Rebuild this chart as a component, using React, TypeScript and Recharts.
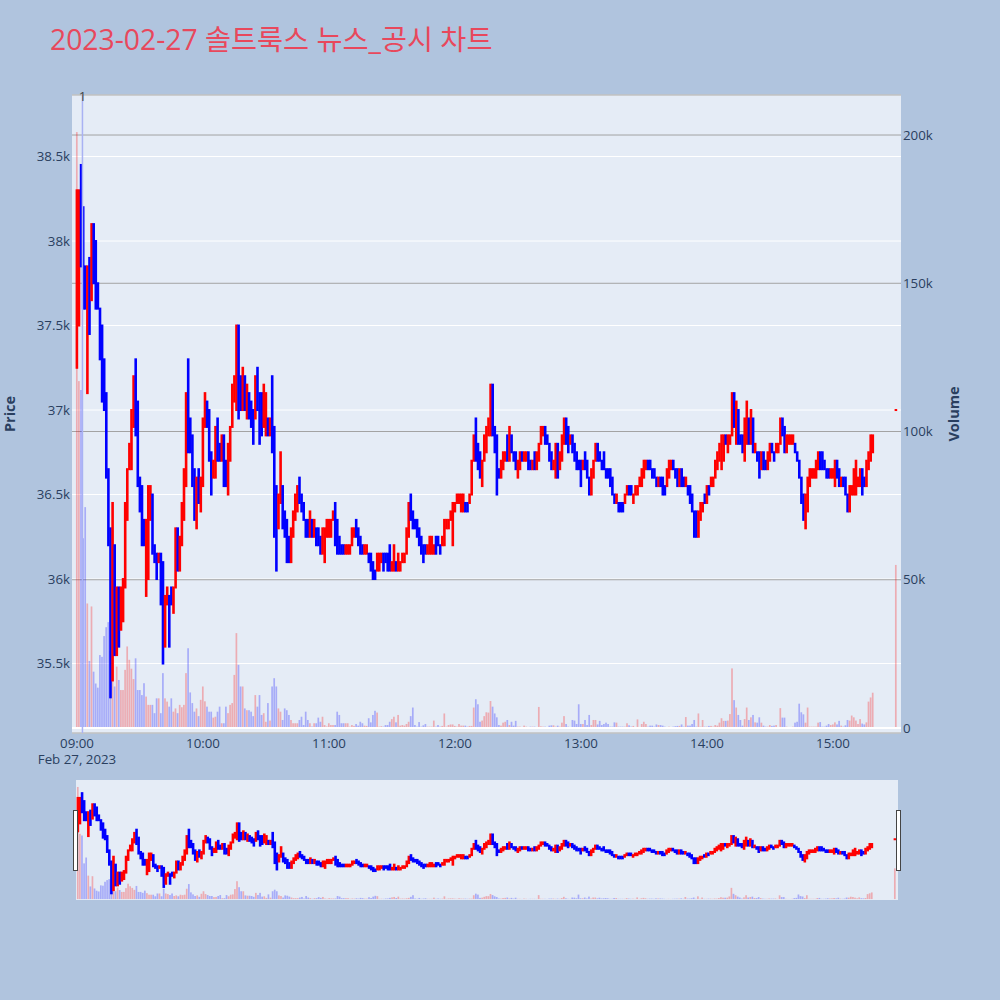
import React from 'react';
import { ComposedChart, Bar, XAxis, YAxis, CartesianGrid, ReferenceLine, Label } from 'recharts';

const TITLE = '2023-02-27 솔트룩스 뉴스_공시 차트';
const DATE_LABEL = 'Feb 27, 2023';
const timeTicks = [0, 60, 120, 180, 240, 300, 360];
const timeLabels = ['09:00', '10:00', '11:00', '12:00', '13:00', '14:00', '15:00'];
const priceTicks = [35500, 36000, 36500, 37000, 37500, 38000, 38500];
const volumeTicks = [0, 50000, 100000, 150000, 200000];
const newsMinutes = [2.6];
const newsLabels = ['1'];

// minute-by-minute candles from 09:00 (index = minutes after 09:00)
const opens = [
  37250, 37500, 38450, 38200, 37850, 37100, 37900, 37650, 38100, 38000,
  37750, 37600, 37500, 37300, 37100, 36650, 36300, 35400, 36200, 35550,
  35950, 35700, 35750, 35950, 36350, 36650, 36650, 36900, 37300, 37050,
  36600, 36550, 36350, 35900, 36000, 36350, 36500, 36200, 36150, 36100,
  36150, 36100, 35600, 35850, 35900, 35950, 35800, 35950, 36300, 36050,
  36200, 36350, 36550, 37300, 36950, 36850, 36650, 36300, 36650, 36400,
  36550, 36900, 37050, 37000,
  36750, 36600, 36600, 36950, 36800, 36700, 36850, 36700, 36500, 36700,
  36900, 37050, 37000, 37500, 37200, 37000, 37200, 36950, 37100, 37050,
  37000, 36950, 37250, 37100, 37100, 36900, 36850, 36950, 36850, 37200,
  36900, 36550, 36300, 36450, 36550, 36400, 36350, 36250, 36100, 36250,
  36350, 36400, 36600, 36500, 36450, 36350, 36350, 36250, 36350, 36250,
  36300, 36300, 36250, 36150, 36100, 36250, 36250,
  36250, 36350, 36450, 36350, 36250, 36200, 36200, 36150, 36150, 36150,
  36200, 36250, 36350, 36300, 36250, 36200, 36150, 36150, 36150, 36150,
  36100, 36050, 36050, 36050, 36100, 36150, 36150, 36150, 36200, 36050,
  36050, 36100, 36050, 36050, 36100, 36100, 36150, 36250, 36500, 36400,
  36350, 36350, 36300, 36250, 36200, 36200, 36150, 36150, 36150, 36150,
  36250, 36250, 36200, 36200, 36200, 36300, 36300, 36350, 36200, 36400,
  36450, 36450,
  36400, 36400, 36450, 36450, 36450, 36500, 36700, 36950, 36800, 36750,
  36550, 36700, 36750, 36850, 36850, 37150, 36900, 36850, 36650, 36600,
  36650, 36700, 36850, 36700, 36850, 36750, 36750, 36600, 36650, 36750,
  36700, 36700, 36750, 36700, 36650, 36750, 36650, 36700, 36800, 36850,
  36900, 36850, 36800, 36750, 36650, 36600, 36800, 36650, 36700, 36800,
  36950, 36900, 36800, 36850, 36800, 36750, 36700, 36700, 36650, 36750,
  36700, 36600,
  36500, 36600, 36700, 36800, 36750, 36700, 36750, 36650, 36650, 36650,
  36600, 36500, 36450, 36450, 36450, 36450, 36450, 36500, 36550, 36550,
  36450, 36500, 36500, 36550, 36550, 36600, 36650, 36700, 36700, 36650,
  36650, 36600, 36550, 36600, 36600, 36550, 36550, 36600, 36650, 36700,
  36650, 36650, 36550, 36650, 36600, 36550, 36550, 36550, 36500, 36400,
  36400, 36250, 36350, 36400, 36500, 36450, 36550, 36550, 36550, 36600,
  36650, 36700,
  36650, 36700, 36850, 36750, 36800, 36850, 37100, 36800, 37000, 36850,
  36850, 36700, 36800, 36950, 36800, 36950, 36750, 36750, 36750, 36650,
  36750, 36700, 36650, 36700, 36800, 36750, 36750, 36750, 36800, 36950,
  36900, 36750, 36800, 36800, 36800, 36800, 36750, 36700, 36600, 36500,
  36300, 36400, 36550, 36600, 36600, 36600, 36650, 36750, 36750, 36700,
  36650, 36650, 36600, 36600, 36550, 36700, 36650, 36550, 36600, 36600,
  36500, 36400, 36500, 36500, 36500, 36550, 36550, 36650, 36600, 36550,
  36650, 36700, 36750,
];

const closes = [
  38300, 38300, 37850, 37600, 37600, 37850, 37450, 38100, 37750, 37600,
  37600, 37300, 37050, 37000, 36600, 36200, 35300, 36450, 35550, 35950,
  35600, 35950, 36000, 36450, 36650, 36800, 37000, 37200, 36850, 36550,
  36400, 36200, 36200, 36350, 36550, 36550, 36150, 36100, 36000, 36150,
  35850, 35500, 35900, 35950, 35600, 35850, 35950, 36300, 36050, 36250,
  36450, 36650, 37100, 36750, 36750, 36550, 36350, 36600, 36450, 36600,
  36950, 37100, 36900, 36700,
  36500, 36700, 36900, 36700, 36700, 36850, 36550, 36550, 36800, 36900,
  37150, 37200, 37500, 36950, 37000, 37250, 37000, 37150, 36950, 36900,
  36800, 37200, 37000, 36800, 36850, 37150, 37100, 36850, 36950, 36750,
  36250, 36050, 36500, 36750, 36300, 36250, 36100, 36100, 36300, 36400,
  36500, 36550, 36450, 36400, 36350, 36250, 36250, 36400, 36250, 36350,
  36200, 36200, 36150, 36300, 36300, 36350, 36350,
  36350, 36400, 36200, 36150, 36150, 36150, 36150, 36200, 36200, 36200,
  36300, 36300, 36250, 36200, 36150, 36150, 36200, 36200, 36100, 36050,
  36000, 36000, 36150, 36150, 36150, 36050, 36100, 36050, 36050, 36100,
  36200, 36050, 36150, 36100, 36150, 36150, 36300, 36450, 36350, 36300,
  36300, 36250, 36200, 36150, 36100, 36150, 36200, 36250, 36250, 36200,
  36150, 36200, 36150, 36250, 36350, 36350, 36350, 36400, 36450, 36450,
  36500, 36500,
  36500, 36500, 36400, 36400, 36500, 36700, 36850, 36700, 36650, 36600,
  36700, 36850, 36900, 36950, 37150, 36850, 36750, 36500, 36600, 36700,
  36750, 36750, 36700, 36900, 36750, 36700, 36650, 36700, 36750, 36700,
  36750, 36750, 36650, 36650, 36700, 36650, 36750, 36800, 36900, 36900,
  36800, 36800, 36700, 36650, 36700, 36800, 36600, 36750, 36850, 36950,
  36800, 36750, 36850, 36750, 36700, 36650, 36650, 36550, 36700, 36650,
  36600, 36500,
  36650, 36700, 36800, 36700, 36700, 36650, 36650, 36600, 36600, 36550,
  36500, 36450, 36500, 36400, 36400, 36400, 36500, 36550, 36500, 36500,
  36500, 36550, 36550, 36600, 36650, 36700, 36700, 36650, 36650, 36600,
  36600, 36550, 36600, 36550, 36500, 36500, 36650, 36700, 36700, 36650,
  36600, 36550, 36650, 36550, 36550, 36600, 36500, 36450, 36400, 36250,
  36250, 36400, 36450, 36450, 36450, 36550, 36500, 36600, 36600, 36700,
  36750, 36800,
  36850, 36850, 36800, 36850, 36850, 37100, 36900, 37050, 36800, 36800,
  36750, 36950, 37050, 36800, 37000, 36750, 36800, 36700, 36600, 36750,
  36650, 36650, 36750, 36800, 36750, 36700, 36800, 36800, 36950, 36850,
  36750, 36850, 36850, 36850, 36850, 36750, 36700, 36600, 36450, 36350,
  36500, 36600, 36650, 36650, 36650, 36700, 36750, 36650, 36650, 36650,
  36600, 36600, 36650, 36650, 36700, 36600, 36550, 36600, 36550, 36500,
  36400, 36550, 36550, 36650, 36700, 36600, 36650, 36500, 36550, 36700,
  36750, 36850, 36850,
];

const volumes = [
  201000, 117000, 114000, 64000, 74500, 42000, 22600, 41000, 19000, 15000,
  13600, 24600, 24000, 31000, 34000, 35700, 26000, 20700, 14000, 20700,
  16200, 12800, 12800, 19600, 27500, 23000, 20000, 16500, 23500, 12800,
  12800, 11100, 15100, 10600, 7800, 7800, 7800, 5000, 10000, 10000,
  5000, 18500, 10000, 8900, 7200, 10000, 5500, 6600, 5000, 7800,
  7000, 7800, 18500, 26900, 12000, 8400, 5500, 6600, 4000, 9500,
  14000, 9000, 7200, 5500, 5500, 3500, 3800, 5500, 7200, 1600,
  1600, 7200, 5000, 7800, 8400, 17900, 32000, 21300, 14000, 14000,
  6600, 6000, 6000, 5500, 4000, 11100, 7200, 11100, 4400, 5000,
  2100, 8400, 2500, 14000, 16800, 14000, 6600, 5500, 2700, 6600,
  6000, 4400, 2700, 1600, 1600, 1600, 2700, 3800, 1000, 5500,
  2700, 1600, 500, 1600, 1600, 3500, 2100, 3800, 1000, 500,
  1600, 1000, 1000, 1000, 5500, 4400, 1600, 1600, 1600, 1600,
  450, 1000, 700, 1350, 800, 2100, 1600, 800, 700, 3300,
  1900, 4400, 5800, 5200, 450, 600, 450, 1000, 1000, 2100,
  3000, 3800, 1900, 4400, 800, 1000, 800, 1350, 2100, 4000,
  6900, 1000, 450, 2000, 450, 900, 1350, 450, 450, 450,
  2500, 450, 1000, 450, 700, 4900, 450, 1000, 1200, 1200,
  700, 450, 1350, 800, 800, 800, 450, 700, 700, 6900,
  9700, 8000, 2100, 2500, 4000, 5300, 5200, 9100, 7200, 4900,
  3600, 1000, 800, 1800, 2100, 2700, 1000, 2100, 800, 2400,
  450, 450, 200, 800, 450, 200, 450, 450, 450, 300,
  7100, 550, 450, 450, 200, 800, 900, 900, 450, 800,
  450, 1800, 4000, 1350, 450, 300, 2700, 2500, 1350, 8000,
  1350, 1350, 2700, 1000, 4400, 1000, 2700, 2700, 1200, 2400,
  1000, 1350, 1800, 1350, 450, 450, 1900, 1800, 450, 450,
  450, 450, 1600, 900, 450, 700, 300, 2900, 300, 1350,
  2100, 1350, 450, 800, 800, 450, 1200, 1000, 1000, 800,
  450, 200, 450, 200, 450, 600, 700, 700, 1200, 450,
  3700, 800, 800, 1350, 2700, 450, 4900, 450, 2700, 450,
  450, 700, 700, 450, 1000, 800, 1800, 3300, 2400, 2400,
  2500, 4700, 20100, 9400, 6900, 4400, 2700, 800, 3000, 6900,
  2700, 3600, 4400, 1900, 1800, 3600, 1800, 800, 450, 450,
  1000, 700, 800, 1000, 300, 6700, 3500, 3500, 450, 200,
  200, 450, 1800, 2100, 8200, 5300, 4600, 1800, 6900, 450,
  450, 450, 450, 1800, 2000, 450, 450, 800, 1350, 1000,
  1200, 1900, 1200, 2400, 800, 450, 900, 2700, 2500, 4200,
  3600, 2500, 1350, 3000, 1500, 1200, 1900, 8900, 10300, 11900,
];

// 15:30 closing auction
const auctionMinute = 390;
const auctionOpen = 37000;
const auctionClose = 37000;
const auctionVolume = 55000;

const RED = '#ff0000';
const BLUE = '#0000ff';
const AXIS_COLOR = '#2a3f5f';
const TICK_FONT = 13.3;
const X_DOMAIN: [number, number] = [-2.38, 392.38];
const P_DOMAIN: [number, number] = [35089, 38864];
const V_DOMAIN: [number, number] = [-1690, 213500];

type Row = { m: number; span: [number, number]; vol: number; up: boolean };

const rows: Row[] = opens.map((o, i) => {
  const c = closes[i];
  const prev = i > 0 ? closes[i - 1] : o;
  return {
    m: i,
    span: [Math.min(o, c), Math.max(o, c)] as [number, number],
    vol: volumes[i],
    up: c > o || (c === o && c >= prev),
  };
});
rows.push({
  m: auctionMinute,
  span: [Math.min(auctionOpen, auctionClose), Math.max(auctionOpen, auctionClose)],
  vol: auctionVolume,
  up: auctionClose > auctionOpen || (auctionClose === auctionOpen && auctionClose >= closes[closes.length - 1]),
});

const fmtK = (v: number) => (v === 0 ? '0' : `${v / 1000}k`);

const Candle = (props: any) => {
  const { x, y, width, height, payload } = props;
  if (x == null || y == null || !payload) return null;
  const hh = Number(height) || 0;
  const top = hh >= 0 ? y : y + hh;
  const h = Math.abs(hh);
  const cx = x + (width || 0) / 2;
  return <rect x={cx - 1.3} y={top - 1} width={2.6} height={h + 2} fill={payload.up ? RED : BLUE} />;
};

const VolBar = (props: any) => {
  const { x, y, width, height, payload } = props;
  if (x == null || y == null || !payload) return null;
  const hh = Number(height) || 0;
  const top = hh >= 0 ? y : y + hh;
  return (
    <rect x={x} y={top} width={width} height={Math.abs(hh)} fill={payload.up ? RED : BLUE} fillOpacity={0.27} />
  );
};

const TimeTick = (props: any) => {
  const { x, y, payload } = props;
  const idx = timeTicks.indexOf(payload.value);
  return (
    <g>
      <text x={x} y={y + 13} textAnchor="middle" fill={AXIS_COLOR} fontSize={TICK_FONT}>
        {idx >= 0 ? timeLabels[idx] : ''}
      </text>
      {idx === 0 && (
        <text x={x} y={y + 29} textAnchor="middle" fill={AXIS_COLOR} fontSize={TICK_FONT}>
          {DATE_LABEL}
        </text>
      )}
    </g>
  );
};

export default function App() {
  return (
    <div
      style={{
        position: 'absolute',
        left: 0,
        top: 0,
        width: 1000,
        height: 1000,
        background: '#b0c4de',
        fontFamily: '"Open Sans", "Noto Sans CJK KR", sans-serif',
        overflow: 'hidden',
      }}
    >
      <div style={{ position: 'absolute', left: 0, top: 0 }}>
        <ComposedChart width={1000} height={780} data={rows} margin={{ top: 95, right: 0, bottom: 20, left: 0 }}>
          <XAxis
            xAxisId="x"
            type="number"
            dataKey="m"
            domain={X_DOMAIN}
            allowDataOverflow
            ticks={timeTicks}
            interval={0}
            tick={<TimeTick />}
            tickLine={false}
            axisLine={false}
            tickSize={0}
            height={27}
          />
          <XAxis xAxisId="xv" type="number" dataKey="m" domain={X_DOMAIN} allowDataOverflow hide />
          <YAxis
            yAxisId="price"
            orientation="left"
            width={72}
            domain={P_DOMAIN}
            allowDataOverflow
            ticks={priceTicks}
            interval={0}
            tickFormatter={fmtK}
            tickLine={false}
            axisLine={false}
            tickSize={0}
            tickMargin={2}
            tick={{ fill: AXIS_COLOR, fontSize: TICK_FONT }}
          />
          <YAxis
            yAxisId="vol"
            orientation="right"
            width={99}
            domain={V_DOMAIN}
            allowDataOverflow
            ticks={volumeTicks}
            interval={0}
            tickFormatter={fmtK}
            tickLine={false}
            axisLine={false}
            tickSize={0}
            tickMargin={2}
            tick={{ fill: AXIS_COLOR, fontSize: TICK_FONT }}
          />
          <CartesianGrid xAxisId="x" yAxisId="price" vertical={false} stroke="#ffffff" fill="#e5ecf6" fillOpacity={1} />
          <CartesianGrid xAxisId="x" yAxisId="vol" vertical={false} stroke="#a3a3a3" />
          <ReferenceLine xAxisId="x" yAxisId="vol" y={0} stroke="#ffffff" strokeWidth={2} />
          <Bar
            xAxisId="xv"
            yAxisId="vol"
            dataKey="vol"
            barSize={1.7}
            shape={<VolBar />}
            isAnimationActive={false}
          />
          <Bar
            xAxisId="x"
            yAxisId="price"
            dataKey="span"
            barSize={2.6}
            shape={<Candle />}
            isAnimationActive={false}
          />
          {newsMinutes.map((m, i) => (
            <ReferenceLine key={i} xAxisId="x" yAxisId="price" x={m} stroke="#a9b2f3" strokeWidth={1.5}>
              <Label value={newsLabels[i]} position="insideTop" offset={-3} fill="#444444" fontSize={TICK_FONT} />
            </ReferenceLine>
          ))}
        </ComposedChart>
      </div>

      {/* range slider */}
      <div style={{ position: 'absolute', left: 76, top: 780, width: 822, height: 120, background: '#e5ecf6' }} />
      <div style={{ position: 'absolute', left: 73, top: 780 }}>
        <ComposedChart width={827} height={120} data={rows} margin={{ top: 0, right: 0, bottom: 0, left: 0 }}>
          <XAxis xAxisId="x" type="number" dataKey="m" domain={X_DOMAIN} allowDataOverflow hide />
          <XAxis xAxisId="xv" type="number" dataKey="m" domain={X_DOMAIN} allowDataOverflow hide />
          <YAxis yAxisId="price" domain={P_DOMAIN} allowDataOverflow hide />
          <YAxis yAxisId="vol" orientation="right" domain={V_DOMAIN} allowDataOverflow hide />
          <Bar xAxisId="xv" yAxisId="vol" dataKey="vol" barSize={1.7} shape={<VolBar />} isAnimationActive={false} />
          <Bar xAxisId="x" yAxisId="price" dataKey="span" barSize={2.6} shape={<Candle />} isAnimationActive={false} />
        </ComposedChart>
      </div>
      <div
        style={{
          position: 'absolute',
          left: 73,
          top: 810,
          width: 3,
          height: 59,
          background: '#ffffff',
          border: '1px solid #444',
        }}
      />
      <div
        style={{
          position: 'absolute',
          left: 896,
          top: 810,
          width: 3,
          height: 59,
          background: '#ffffff',
          border: '1px solid #444',
        }}
      />

      <svg
        width={1000}
        height={1000}
        style={{ position: 'absolute', left: 0, top: 0, pointerEvents: 'none' }}
      >
        <text x={50} y={50} fontSize={28.3} fill="#e8485c">
          {TITLE}
        </text>
        <text
          x={15}
          y={414}
          fontSize={14.5}
          fontWeight="bold"
          fill={AXIS_COLOR}
          textAnchor="middle"
          transform="rotate(-90 15 414)"
        >
          Price
        </text>
        <text
          x={959}
          y={414}
          fontSize={14.5}
          fontWeight="bold"
          fill={AXIS_COLOR}
          textAnchor="middle"
          transform="rotate(-90 959 414)"
        >
          Volume
        </text>
      </svg>
    </div>
  );
}
